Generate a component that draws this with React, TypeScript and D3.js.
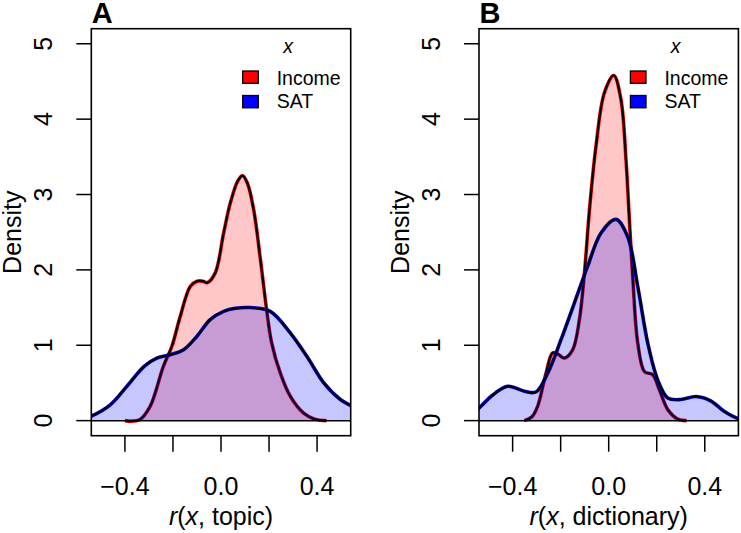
import React from 'react';
import * as d3 from 'd3';

// density estimates, [r, density]
const incomeTopic: [number, number][] = [
  [-0.40, 0], [-0.34, 0.01], [-0.295, 0.19], [-0.24, 0.72], [-0.204, 0.99], [-0.17, 1.38],
  [-0.128, 1.78], [-0.10, 1.85], [-0.075, 1.85], [-0.058, 1.83], [-0.024, 1.96], [0.011, 2.49],
  [0.039, 2.89], [0.07, 3.18], [0.09, 3.25], [0.11, 3.15], [0.136, 2.80], [0.164, 2.14],
  [0.19, 1.47], [0.211, 1.03], [0.247, 0.63], [0.289, 0.32], [0.344, 0.10], [0.39, 0.02], [0.439, 0],
];
const satTopic: [number, number][] = [
  [-0.58, 0.02], [-0.54, 0.06], [-0.461, 0.21], [-0.392, 0.455], [-0.32, 0.72], [-0.267, 0.83],
  [-0.211, 0.875], [-0.156, 0.94], [-0.10, 1.12], [-0.045, 1.34], [0.011, 1.45], [0.06, 1.49],
  [0.122, 1.50], [0.205, 1.45], [0.289, 1.16], [0.358, 0.85], [0.428, 0.50], [0.497, 0.28],
  [0.546, 0.19], [0.58, 0.12],
];
const incomeDict: [number, number][] = [
  [-0.351, 0], [-0.32, 0.05], [-0.296, 0.19], [-0.261, 0.63], [-0.233, 0.90], [-0.21, 0.88],
  [-0.185, 0.83], [-0.15, 0.94], [-0.122, 1.34], [-0.101, 1.96], [-0.08, 2.80], [-0.053, 3.64],
  [-0.018, 4.35], [0.021, 4.58], [0.051, 4.26], [0.072, 3.46], [0.086, 2.67], [0.10, 1.91],
  [0.121, 1.03], [0.149, 0.65], [0.183, 0.61], [0.211, 0.41], [0.246, 0.146], [0.288, 0.02], [0.324, 0],
];
const satDict: [number, number][] = [
  [-0.58, 0.06], [-0.546, 0.146], [-0.49, 0.32], [-0.421, 0.455], [-0.351, 0.39], [-0.303, 0.38],
  [-0.254, 0.63], [-0.199, 1.07], [-0.143, 1.56], [-0.0875, 2.05], [-0.032, 2.49], [0.030, 2.67],
  [0.079, 2.44], [0.121, 1.78], [0.1625, 1.03], [0.204, 0.54], [0.246, 0.30], [0.30, 0.28],
  [0.364, 0.32], [0.426, 0.26], [0.482, 0.12], [0.545, 0.02], [0.58, 0.005],
];

const xTicks = [-0.4, -0.2, 0, 0.2, 0.4];
const xTickLabels = ['\u22120.4', '', '0.0', '', '0.4'];
const yTicks = [0, 1, 2, 3, 4, 5];
const legendLabels = ['Income', 'SAT'];
const legendColors = ['#ff0000', '#0000ff'];

const W = 741;
const H = 533;
const top = 28.7;
const bottom = 435.7;
const boxW = 259.4;
const font = 'Liberation Sans, Arial, Helvetica, sans-serif';

function Panel({ id, left, letter, xLabel, income, sat }: any) {
  const x = d3.scaleLinear().domain([-0.54, 0.54]).range([left, left + boxW]);
  const y = d3.scaleLinear().domain([-0.2, 5.2]).range([bottom, top]);
  const area = d3.area<[number, number]>()
    .x(d => x(d[0])).y0(y(0)).y1(d => y(d[1]))
    .curve(d3.curveCatmullRom.alpha(0.5));
  const line = d3.line<[number, number]>()
    .x(d => x(d[0])).y(d => y(d[1]))
    .curve(d3.curveCatmullRom.alpha(0.5));
  const right = left + boxW;
  const cy = (top + bottom) / 2;
  const series = [
    { d: income, col: '#ff0000', fill: 'rgba(255,0,0,0.22)' },
    { d: sat, col: '#0000ff', fill: 'rgba(0,0,255,0.22)' },
  ];
  return (
    <g>
      <clipPath id={`clip-${id}`}>
        <rect x={left} y={top} width={boxW} height={bottom - top} />
      </clipPath>
      <g clipPath={`url(#clip-${id})`}>
        {series.map((s, i) => (
          <g key={i}>
            <path d={area(s.d) || ''} fill={s.fill} stroke="none" />
            <path d={line(s.d) || ''} fill="none" stroke={s.col} strokeWidth={3.6} />
            <path d={line(s.d) || ''} fill="none" stroke="#000" strokeWidth={2.2} />
          </g>
        ))}
        <line x1={left} x2={right} y1={y(0)} y2={y(0)} stroke="#000" strokeWidth={1.5} />
      </g>
      <rect x={left} y={top} width={boxW} height={bottom - top} fill="none" stroke="#000" strokeWidth={1.6} />
      {/* x axis */}
      {xTicks.map((t, i) => (
        <g key={i}>
          <line x1={x(t)} x2={x(t)} y1={bottom} y2={bottom + 16} stroke="#000" strokeWidth={1.5} />
          <text x={x(t)} y={495} textAnchor="middle" fontSize={25} fontFamily={font}>{xTickLabels[i]}</text>
        </g>
      ))}
      <text x={(left + right) / 2} y={525} textAnchor="middle" fontSize={25} fontFamily={font}>
        <tspan fontStyle="italic">r</tspan>(<tspan fontStyle="italic">x</tspan>, {xLabel})
      </text>
      {/* y axis */}
      {yTicks.map(t => (
        <g key={t}>
          <line x1={left - 15} x2={left} y1={y(t)} y2={y(t)} stroke="#000" strokeWidth={1.5} />
          <text transform={`translate(${left - 39.5},${y(t)}) rotate(-90)`} textAnchor="middle"
            fontSize={25} fontFamily={font}>{t}</text>
        </g>
      ))}
      <text transform={`translate(${left - 70},${cy}) rotate(-90)`} textAnchor="middle"
        fontSize={25} fontFamily={font}>Density</text>
      <text x={left + 0.5} y={22.7} fontSize={29} fontWeight="bold" fontFamily={font}>{letter}</text>
      {/* legend */}
      <text x={right - 62.7} y={52.7} textAnchor="middle" fontSize={19.5} fontStyle="italic" fontFamily={font}>x</text>
      {legendLabels.map((lab, i) => (
        <g key={lab}>
          <rect x={right - 108} y={71 + i * 24.5} width={15.6} height={12.3}
            fill={legendColors[i]} stroke="#000" strokeWidth={1.3} />
          <text x={right - 74} y={84.5 + i * 23.8} fontSize={19.5} fontFamily={font}>{lab}</text>
        </g>
      ))}
    </g>
  );
}

export default function App() {
  return (
    <svg width={W} height={H} viewBox={`0 0 ${W} ${H}`}
      style={{ position: 'absolute', left: 0, top: 0, background: '#fff' }}>
      <rect width={W} height={H} fill="#fff" />
      <Panel id="a" left={91.3} letter="A" xLabel="topic" income={incomeTopic} sat={satTopic} />
      <Panel id="b" left={479} letter="B" xLabel="dictionary" income={incomeDict} sat={satDict} />
    </svg>
  );
}
